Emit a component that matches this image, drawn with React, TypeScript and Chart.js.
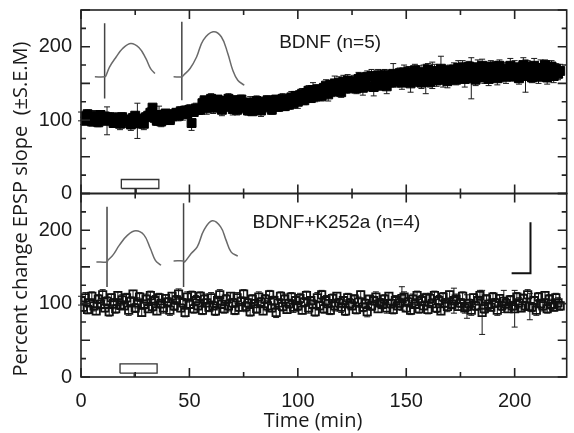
import React, { useEffect, useRef } from "react";
import { Chart, registerables } from "chart.js";

Chart.register(...registerables);

// ---------------- DATA ----------------
// Sampling times (min)
const TIMES = [
  0, 1, 2, 3, 4, 5, 6, 7, 8, 9, 10, 11, 12, 13, 14, 15, 16, 17, 18, 19,
  20, 21, 22, 23, 24, 25, 26, 27, 28, 29, 30, 31, 32, 33, 34, 35, 36, 37, 38, 39,
  40, 41, 42, 43, 44, 45, 46, 47, 48, 49, 50, 51, 52, 53, 54, 55, 56, 57, 58, 59,
  60, 61, 62, 63, 64, 65, 66, 67, 68, 69, 70, 71, 72, 73, 74, 75, 76, 77, 78, 79,
  80, 81, 82, 83, 84, 85, 86, 87, 88, 89, 90, 91, 92, 93, 94, 95, 96, 97, 98, 99,
  100, 101, 102, 103, 104, 105, 106, 107, 108, 109, 110, 111, 112, 113, 114, 115, 116, 117, 118, 119,
  120, 121, 122, 123, 124, 125, 126, 127, 128, 129, 130, 131, 132, 133, 134, 135, 136, 137, 138, 139,
  140, 141, 142, 143, 144, 145, 146, 147, 148, 149, 150, 151, 152, 153, 154, 155, 156, 157, 158, 159,
  160, 161, 162, 163, 164, 165, 166, 167, 168, 169, 170, 171, 172, 173, 174, 175, 176, 177, 178, 179,
  180, 181, 182, 183, 184, 185, 186, 187, 188, 189, 190, 191, 192, 193, 194, 195, 196, 197, 198, 199,
  200, 201, 202, 203, 204, 205, 206, 207, 208, 209, 210, 211, 212, 213, 214, 215, 216, 217, 218, 219,
  220, 221,
];

// BDNF (n=5): percent change EPSP slope
const BDNF = [
  105, 99, 104, 108, 101, 98, 106, 103, 97, 107, 101, 105, 99, 104, 100,
  96, 103, 99, 95, 104, 101, 97, 100, 94, 103, 106, 99, 96, 102, 95, 104,
  106, 110, 117, 103, 99, 107, 98, 104, 109, 106, 100, 105, 108, 110,
  106, 112, 108, 113, 109, 114, 96, 111, 116, 114,
  114, 123, 127, 116, 125, 129, 118, 117, 128, 122, 114, 126, 118, 129, 121, 115, 127, 114, 120, 128, 121,
  116, 113, 124, 112, 120, 126, 115, 113, 125, 118, 127, 121, 114, 124, 128, 118, 125, 129, 119, 127,
  121, 131, 123, 133, 125, 134, 136, 127, 137, 140, 130, 141, 132, 142, 135,
  133, 144, 147, 135, 148, 139, 150, 141, 151, 138, 152, 143, 154, 144, 149,
  153, 143, 156, 158, 144, 154, 159, 146, 160, 145, 155, 161, 147, 156, 162, 146, 158, 151, 163, 153,
  153, 164, 151, 165, 155, 166, 150, 160, 168, 153, 163, 151, 166, 156, 169, 152, 161, 167, 154, 163, 170, 155, 165, 153, 168,
  157, 169, 155, 171, 160, 172, 156, 165, 173, 157, 168, 155, 172, 161, 174, 158, 167, 156, 173, 162, 170, 157, 174, 163, 169,
  159, 170, 174, 160, 172, 163, 157, 169, 175, 160, 173, 165, 158, 174, 166, 159, 171, 163, 175, 158, 168, 173, 160, 170, 163, 167,
];
const BDNF_SEM = [
  6, 5, 7, 6, 5, 6, 7, 5, 6, 6, 7, 5, 19, 6, 5,
  6, 7, 5, 8, 6, 5, 7, 6, 8, 6, 5, 24, 7, 6, 8, 5,
  6, 7, 5, 8, 6, 12, 7, 6, 5, 7, 6, 8, 6, 5,
  7, 6, 8, 6, 6, 7, 10, 5, 7, 6,
  6, 7, 5, 8, 6, 7, 9, 6, 5, 7, 8, 6, 5, 7, 6, 8, 6, 7, 5, 6, 7,
  7, 6, 8, 5, 6, 7, 6, 8, 5, 7, 6, 9, 6, 7, 5, 6, 8, 7, 6, 5,
  6, 8, 7, 6, 9, 5, 7, 6, 8, 7, 6, 10, 7, 6, 8,
  7, 6, 8, 9, 6, 7, 10, 6, 8, 7, 9, 6, 8, 7, 6,
  8, 7, 9, 6, 10, 7, 8, 6, 9, 12, 7, 8, 6, 9, 7, 10, 8, 6, 14, 7,
  8, 7, 9, 10, 8, 7, 12, 9, 8, 7, 11, 8, 9, 20, 8, 7, 18, 9, 8, 7, 17, 10, 8, 9, 7,
  8, 9, 7, 10, 8, 9, 11, 8, 7, 28, 9, 8, 10, 7, 9, 8, 11, 9, 8, 7, 10, 9, 8, 11, 9,
  9, 8, 10, 7, 9, 11, 8, 9, 10, 22, 8, 9, 7, 10, 8, 9, 11, 8, 7, 9, 10, 8, 9, 7, 8, 9,
];

// BDNF+K252a (n=4)
const K252A = [
  104, 95, 108, 92, 101, 110, 97, 90, 106, 99, 112, 94, 103, 89, 108, 100, 93, 111, 98, 105,
  97, 108, 91, 103, 113, 94, 101, 109, 88, 99, 106, 93, 111, 96, 104, 90, 108, 100, 94, 107,
  102, 91, 110, 97, 105, 113, 94, 101, 88, 109, 99, 111, 93, 104, 97, 110, 91, 106, 101, 95,
  108, 97, 90, 104, 112, 99, 93, 106, 97, 110, 101, 91, 108, 95, 103, 113, 96, 101, 89, 106,
  100, 93, 109, 102, 90, 106, 97, 112, 94, 104, 88, 101, 110, 96, 106, 92, 100, 109, 95, 104,
  97, 107, 91, 102, 111, 94, 104, 99, 89, 108, 97, 112, 93, 104, 100, 91, 107, 97, 110, 101,
  95, 104, 90, 108, 100, 97, 106, 92, 102, 112, 95, 100, 89, 106, 97, 104, 109, 93, 101, 99,
  106, 94, 110, 100, 92, 104, 97, 101, 107, 109, 94, 102, 91, 106, 99, 111, 93, 104, 97, 108,
  92, 107, 100, 111, 94, 104, 90, 109, 101, 96, 112, 99, 104, 106, 96, 101, 110, 94, 96, 100,
  91, 108, 97, 104, 111, 88, 93, 106, 99, 95, 109, 101, 91, 107, 97, 103, 100, 93, 105, 97,
  93, 109, 101, 94, 107, 97, 112, 96, 95, 104, 91, 109, 100, 97, 111, 93, 106, 99, 95, 108,
  101, 97,
];
const K252A_SEM = [
  6, 5, 7, 6, 5, 6, 7, 5, 6, 6, 7, 5, 6, 6, 5, 7, 6, 5, 6, 7,
  5, 6, 7, 6, 5, 6, 7, 6, 5, 6, 7, 5, 6, 6, 7, 5, 6, 6, 7, 5,
  6, 7, 5, 6, 6, 7, 5, 6, 6, 7, 5, 6, 6, 7, 5, 6, 6, 7, 5, 6,
  7, 5, 6, 6, 7, 5, 6, 6, 7, 5, 6, 6, 7, 5, 6, 6, 7, 5, 6, 6,
  5, 6, 7, 6, 5, 6, 7, 6, 5, 6, 7, 5, 6, 6, 7, 5, 6, 6, 7, 5,
  6, 7, 5, 6, 6, 7, 5, 6, 6, 7, 5, 6, 6, 7, 5, 6, 6, 7, 5, 6,
  7, 5, 6, 6, 7, 5, 6, 6, 7, 5, 6, 6, 7, 5, 6, 6, 7, 5, 6, 6,
  6, 7, 5, 6, 6, 7, 5, 6, 16, 7, 5, 6, 6, 7, 5, 6, 6, 7, 5, 6,
  6, 7, 5, 6, 6, 7, 5, 6, 6, 7, 5, 6, 17, 7, 5, 6, 6, 7, 16, 6,
  7, 5, 6, 6, 7, 30, 6, 6, 7, 5, 6, 6, 7, 5, 6, 15, 7, 5, 6, 6,
  25, 6, 7, 5, 6, 6, 7, 18, 6, 5, 7, 6, 6, 7, 5, 6, 6, 7, 5, 6,
  7, 6,
];

// Axis ticks
const X_TICK_LABELS = [0, 50, 100, 150, 200];
const X_MINOR_TICKS = [25, 75, 125, 175];
const Y_TICK_LABELS = [0, 50, 100, 150, 200];
const Y_MAJOR_TICKS = [0, 50, 100, 150, 200, 250];
const Y_MINOR_TICKS = [25, 75, 125, 175, 225];

// Text
const PANEL_LABELS = ["BDNF (n=5)", "BDNF+K252a (n=4)"];
const X_TITLE = "Time (min)";
const Y_TITLE = "Percent change EPSP slope  (\u00B1S.E.M)";

// Inset EPSP traces, drawn in the panel's own (min, %) coordinates
const TOP_TRACE1_T = [6.4, 10.9, 11.4, 13.2, 16.2, 19.2, 23, 26.8, 29.9, 32.1, 34.1];
const TOP_TRACE1_V = [158.9, 158.9, 159.8, 172.5, 186, 197.6, 204.5, 198.5, 184, 170, 163.5];
const TOP_ART1_T = [10.9, 10.9];
const TOP_ART1_V = [231.8, 129.4];
const TOP_TRACE2_T = [42.7, 46.5, 47.3, 50.3, 53.3, 56.4, 60.9, 64.7, 67.7, 70, 72.3, 75.3];
const TOP_TRACE2_V = [158.9, 158.9, 161.2, 170.3, 186, 209, 220.4, 213.5, 190.8, 168, 154.4, 147.5];
const TOP_ART2_T = [46.5, 46.5];
const TOP_ART2_V = [234, 127];

const BOT_TRACE1_T = [7.1, 12, 12.4, 14.7, 17.7, 21.5, 25.3, 29.1, 32, 34.3, 36.9];
const BOT_TRACE1_V = [156.8, 156.8, 159, 166, 179.6, 193.3, 199.2, 193.3, 175, 159, 152.3];
const BOT_ART1_T = [12, 12];
const BOT_ART1_V = [232, 122.7];
const BOT_TRACE2_T = [42.7, 47.3, 47.8, 50.8, 53.6, 56.7, 60.5, 64.4, 66.9, 69.2, 72.3];
const BOT_TRACE2_V = [158.2, 158.2, 156.8, 168.3, 177.3, 200, 212.8, 204.6, 186.5, 170.5, 164.6];
const BOT_ART2_T = [47.3, 47.3];
const BOT_ART2_V = [236.6, 122.7];

// Drug application bars (open rectangles) + marker
const TOP_BAR_T = [18.6, 35.9, 35.9, 18.6, 18.6];
const TOP_BAR_V = [6.8, 6.8, 19.1, 19.1, 6.8];
const TOP_BAR_MARK_T = [25.5, 25.5];
const TOP_BAR_MARK_V = [6.8, 0];
const BOT_BAR_T = [18, 35.1, 35.1, 18, 18];
const BOT_BAR_V = [5.2, 5.2, 18, 18, 5.2];
const BOT_BAR_MARK_T = [24.5, 24.5];
const BOT_BAR_MARK_V = [5.2, 0];

// Calibration scale bar (bottom panel)
const SCALE_BAR_T = [198.6, 207.3, 207.3];
const SCALE_BAR_V = [141.4, 141.4, 211];

// ---------------- HELPERS ----------------
const pts = (xs: number[], ys: number[]) => xs.map((x, i) => ({ x, y: ys[i] }));

const TICK_FONT = '"Liberation Sans", Arial, Helvetica, sans-serif';
const TITLE_FONT = '"Open Sans", "Liberation Sans", Arial, sans-serif';
const INK = "#1a1a1a";

const traceDs = (xs: number[], ys: number[], axis: string, color = "#6a6a6a", width = 1.5, tension = 0.4) => ({
  data: pts(xs, ys),
  yAxisID: axis,
  showLine: true,
  borderColor: color,
  borderWidth: width,
  pointRadius: 0,
  tension,
  fill: false,
});

const panelPlugin = {
  id: "panelPlugin",
  beforeDatasetsDraw(chart: any) {
    const { ctx } = chart;
    const xs = chart.scales.x;
    const drawErr = (vals: number[], errs: number[], ys: any) => {
      ctx.save();
      ctx.strokeStyle = INK;
      ctx.lineWidth = 1;
      ctx.beginPath();
      TIMES.forEach((t, i) => {
        const px = xs.getPixelForValue(t);
        const y1 = ys.getPixelForValue(vals[i] - errs[i]);
        const y2 = ys.getPixelForValue(vals[i] + errs[i]);
        ctx.moveTo(px, y1);
        ctx.lineTo(px, y2);
        ctx.moveTo(px - 3, y1);
        ctx.lineTo(px + 3, y1);
        ctx.moveTo(px - 3, y2);
        ctx.lineTo(px + 3, y2);
      });
      ctx.stroke();
      ctx.restore();
    };
    drawErr(BDNF, BDNF_SEM, chart.scales.yTop);
    drawErr(K252A, K252A_SEM, chart.scales.yBot);
  },
  afterDraw(chart: any) {
    const { ctx, chartArea } = chart;
    const xs = chart.scales.x;
    const { left, right } = chartArea;
    const MAJOR = 9;
    const MINOR = 5;
    ctx.save();
    ctx.strokeStyle = "#222";
    ctx.lineWidth = 1.6;
    [chart.scales.yTop, chart.scales.yBot].forEach((ys: any) => {
      const top = ys.getPixelForValue(250);
      const bottom = ys.getPixelForValue(0);
      ctx.strokeRect(left, top, right - left, bottom - top);
      ctx.beginPath();
      const yTick = (v: number, len: number) => {
        const py = ys.getPixelForValue(v);
        ctx.moveTo(left, py);
        ctx.lineTo(left + len, py);
        ctx.moveTo(right, py);
        ctx.lineTo(right - len, py);
      };
      Y_MAJOR_TICKS.forEach((v) => yTick(v, MAJOR));
      Y_MINOR_TICKS.forEach((v) => yTick(v, MINOR));
      const xTick = (v: number, len: number) => {
        const px = xs.getPixelForValue(v);
        ctx.moveTo(px, bottom);
        ctx.lineTo(px, bottom - len);
        ctx.moveTo(px, top);
        ctx.lineTo(px, top + len);
      };
      X_TICK_LABELS.forEach((v) => xTick(v, MAJOR));
      X_MINOR_TICKS.forEach((v) => xTick(v, MINOR));
      ctx.stroke();
    });

    // panel labels
    ctx.fillStyle = INK;
    ctx.font = `19px ${TICK_FONT}`;
    ctx.textAlign = "left";
    ctx.textBaseline = "middle";
    ctx.fillText(PANEL_LABELS[0], xs.getPixelForValue(91.4), chart.scales.yTop.getPixelForValue(206));
    ctx.fillText(PANEL_LABELS[1], xs.getPixelForValue(79.1), chart.scales.yBot.getPixelForValue(209.7));

    // x-axis title
    ctx.font = `20px ${TITLE_FONT}`;
    ctx.textAlign = "center";
    ctx.textBaseline = "middle";
    ctx.fillText(X_TITLE, 313, 421);

    // shared y-axis title
    ctx.translate(21, 209);
    ctx.rotate(-Math.PI / 2);
    ctx.font = `20px ${TITLE_FONT}`;
    ctx.textAlign = "center";
    ctx.textBaseline = "middle";
    ctx.fillText(Y_TITLE, 0, 0);
    ctx.restore();
  },
};

const yAxis = () => ({
  type: "linear" as const,
  min: 0,
  max: 250,
  position: "left" as const,
  stack: "panels",
  stackWeight: 1,
  grid: { display: false, drawTicks: false },
  border: { display: false },
  afterBuildTicks: (s: any) => {
    s.ticks = s.ticks.filter((t: any) => Y_TICK_LABELS.includes(t.value));
  },
  afterFit: (s: any) => {
    s.width = 81;
    s.paddingTop = 0;
    s.paddingBottom = 0;
  },
  ticks: {
    stepSize: 50,
    padding: 9,
    color: INK,
    font: { family: TICK_FONT, size: 20 },
  },
});

export default function App() {
  const ref = useRef<HTMLCanvasElement | null>(null);
  useEffect(() => {
    if (!ref.current) return;
    const chart = new Chart(ref.current, {
      type: "scatter",
      data: {
        datasets: [
          // inset traces
          traceDs(TOP_TRACE1_T, TOP_TRACE1_V, "yTop"),
          traceDs(TOP_ART1_T, TOP_ART1_V, "yTop", "#444", 1.5, 0),
          traceDs(TOP_TRACE2_T, TOP_TRACE2_V, "yTop"),
          traceDs(TOP_ART2_T, TOP_ART2_V, "yTop", "#444", 1.5, 0),
          traceDs(BOT_TRACE1_T, BOT_TRACE1_V, "yBot"),
          traceDs(BOT_ART1_T, BOT_ART1_V, "yBot", "#444", 1.5, 0),
          traceDs(BOT_TRACE2_T, BOT_TRACE2_V, "yBot"),
          traceDs(BOT_ART2_T, BOT_ART2_V, "yBot", "#444", 1.5, 0),
          // application bars
          traceDs(TOP_BAR_T, TOP_BAR_V, "yTop", "#333", 1.3, 0),
          traceDs(TOP_BAR_MARK_T, TOP_BAR_MARK_V, "yTop", "#333", 1.3, 0),
          traceDs(BOT_BAR_T, BOT_BAR_V, "yBot", "#333", 1.3, 0),
          traceDs(BOT_BAR_MARK_T, BOT_BAR_MARK_V, "yBot", "#333", 1.3, 0),
          // scale bar
          traceDs(SCALE_BAR_T, SCALE_BAR_V, "yBot", "#111", 2, 0),
          // data
          {
            label: PANEL_LABELS[0],
            data: pts(TIMES, BDNF),
            yAxisID: "yTop",
            pointStyle: "rect",
            pointRadius: 6.3,
            pointBackgroundColor: "#000",
            pointBorderColor: "#000",
            pointBorderWidth: 1,
            showLine: false,
          },
          {
            label: PANEL_LABELS[1],
            data: pts(TIMES, K252A),
            yAxisID: "yBot",
            pointStyle: "rect",
            pointRadius: 5.2,
            pointBackgroundColor: "rgba(255,255,255,0)",
            pointBorderColor: "#111",
            pointBorderWidth: 1.8,
            showLine: false,
          },
        ] as any,
      },
      options: {
        responsive: false,
        animation: false,
        devicePixelRatio: 1,
        layout: { padding: { top: 10, right: 1, bottom: 0, left: 0 } },
        plugins: {
          legend: { display: false },
          tooltip: { enabled: false },
        },
        scales: {
          x: {
            type: "linear",
            min: 0,
            max: 224,
            position: "bottom",
            grid: { display: false, drawTicks: false },
            border: { display: false },
            afterBuildTicks: (s: any) => {
              s.ticks = s.ticks.filter((t: any) => X_TICK_LABELS.includes(t.value));
            },
            afterFit: (s: any) => {
              s.height = 56;
              s.paddingLeft = 0;
              s.paddingRight = 0;
            },
            ticks: {
              stepSize: 50,
              includeBounds: false,
              maxRotation: 0,
              autoSkip: false,
              padding: 12,
              color: INK,
              font: { family: TICK_FONT, size: 20 },
            },
          },
          yBot: yAxis(),
          yTop: yAxis(),
        } as any,
      },
      plugins: [panelPlugin],
    });
    return () => chart.destroy();
  }, []);
  return (
    <canvas
      ref={ref}
      width={574}
      height={433}
      style={{ position: "absolute", left: 0, top: 0, width: 574, height: 433, display: "block" }}
    />
  );
}
